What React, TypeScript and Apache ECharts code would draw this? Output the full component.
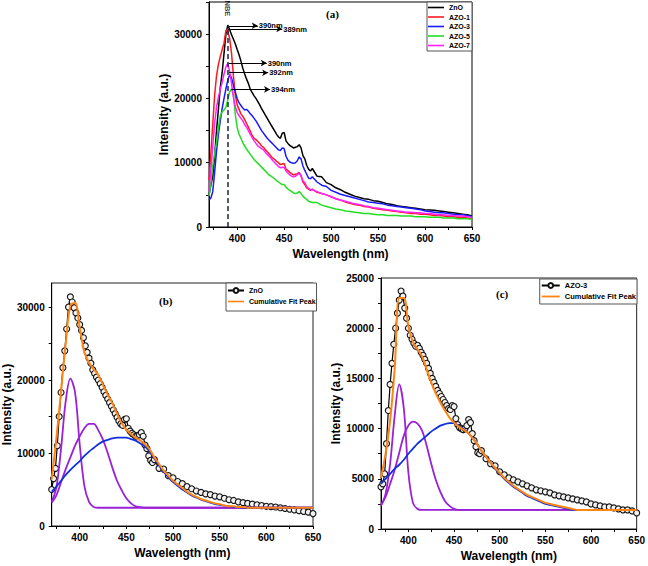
import { useEffect, useRef } from 'react';
import * as echarts from 'echarts';

// ---------- wavelength grids (nm) ----------
const wavelengths = [
  370, 372, 374, 376, 378, 380, 382, 384, 386, 388, 390, 392, 394, 396, 398, 400, 402, 404, 406, 408,
  410, 412, 414, 416, 418, 420, 422, 424, 426, 428, 430, 432, 434, 436, 438, 440, 442, 444, 446, 448,
  450, 452, 454, 456, 458, 460, 462, 464, 466, 468, 470, 472, 474, 476, 478, 480,
  485, 490, 495, 500, 505, 510, 515, 520, 525, 530, 535, 540, 545, 550, 555, 560, 565, 570, 575, 580,
  585, 590, 595, 600, 605, 610, 615, 620, 625, 630, 635, 640, 645, 650,
];

const fitWavelengths = [
  370, 375, 380, 385, 390, 395, 400, 405, 410, 415, 420, 425, 430, 435, 440, 445, 450, 455, 460, 465,
  470, 475, 480, 485, 490, 495, 500, 505, 510, 515, 520, 525, 530, 535, 540, 545, 550, 555, 560, 565,
  570, 575, 580, 585, 590, 595, 600, 605, 610, 615, 620, 625, 630, 635, 640, 645, 650,
];

// ---------- PL spectra (a.u.) ----------
const znoSpectrum = [
  5000, 6500, 7900, 11000, 15000, 18300, 21700, 24000, 27000, 30000, 31400, 30700, 29900, 29200, 28500, 27600, 26800, 25800, 24700, 23800,
  23000, 22300, 21400, 20900, 20400, 20000, 19500, 19000, 18400, 17900, 17400, 16900, 16400, 15900, 15400, 14900, 14400, 14000, 13800, 14600,
  14700, 13400, 13000, 12700, 12500, 12300, 12400, 12500, 12800, 12300, 11100, 10600, 9600, 9000, 8700, 9100,
  7900, 7800, 6900, 6600, 6100, 5800, 5400, 5100, 4800, 4600, 4400, 4300, 4100, 4000, 3800, 3600, 3500, 3300, 3200, 3100,
  3000, 2900, 2800, 2700, 2650, 2600, 2500, 2400, 2300, 2200, 2100, 2000, 1900, 1700,
];
const azo1Spectrum = [
  7300, 11500, 16000, 20500, 23500, 25300, 26500, 27600, 28600, 30600, 30500, 29300, 27000, 23500, 20500, 19000, 18300, 17600, 17200, 16700,
  16100, 15500, 14900, 14200, 13800, 13600, 13300, 13000, 12600, 12400, 12000, 11700, 11400, 11000, 10700, 10500, 10200, 10000, 9700, 9800,
  9900, 9000, 8800, 8500, 8300, 8100, 8200, 8300, 8500, 8000, 7000, 6600, 6100, 5900, 5700, 5900,
  5400, 5200, 5000, 4700, 4400, 4200, 3900, 3700, 3500, 3400, 3200, 3100, 2900, 2800, 2700, 2600, 2500, 2400, 2300, 2200,
  2100, 2100, 2000, 2000, 1900, 1800, 1800, 1700, 1600, 1600, 1500, 1500, 1400, 1300,
];
const azo3Spectrum = [
  4200, 4500, 5500, 8500, 11800, 14400, 16500, 18400, 20000, 21500, 22800, 23700, 23200, 22000, 21000, 20000, 19300, 18900, 18500, 18200,
  18300, 18000, 17600, 17300, 16900, 16500, 16000, 15500, 15000, 14600, 14200, 13800, 13500, 13200, 12900, 12600, 12300, 12000, 11900, 12300,
  12200, 11000, 10400, 10100, 10000, 9900, 10000, 10300, 10900, 10600, 9500, 8800, 8200, 7600, 7500, 7800,
  7000, 6500, 6300, 5700, 5400, 5100, 4900, 4700, 4500, 4300, 4100, 3900, 3800, 3700, 3600, 3400, 3300, 3200, 3100, 3000,
  2900, 2800, 2700, 2500, 2400, 2300, 2200, 2200, 2100, 2000, 1900, 1900, 1800, 1600,
];
const azo5Spectrum = [
  4800, 6800, 9500, 11500, 13200, 15500, 17300, 17900, 18200, 18600, 19800, 21000, 21500, 20500, 17500, 15500, 14400, 13800, 13100, 12600,
  12100, 11700, 11300, 10900, 10500, 10200, 9900, 9600, 9300, 9000, 8700, 8400, 8100, 7900, 7700, 7500, 7200, 7000, 6800, 6600,
  6600, 6200, 5900, 5700, 5500, 5300, 5200, 5300, 5500, 5200, 4800, 4500, 4300, 4000, 3900, 3800,
  3800, 3400, 3200, 3000, 2800, 2700, 2500, 2400, 2300, 2200, 2100, 2100, 2000, 1900, 1900, 1800, 1800, 1800, 1700, 1700,
  1700, 1600, 1600, 1600, 1500, 1500, 1500, 1400, 1400, 1400, 1300, 1300, 1300, 1200,
];
const azo7Spectrum = [
  5600, 9000, 12500, 16200, 18600, 20200, 21400, 22500, 23800, 24900, 25400, 24200, 22300, 20200, 18700, 17800, 17300, 16900, 16500, 15900,
  15500, 15000, 14400, 13900, 13400, 13000, 12600, 12400, 12200, 12000, 11600, 11300, 11000, 10700, 10300, 10000, 9700, 9400, 9200, 9300,
  9300, 8700, 8400, 8100, 7900, 7800, 7900, 8100, 8400, 7900, 7200, 6900, 6300, 6000, 5800, 5800,
  5500, 5200, 5000, 4700, 4400, 4200, 4000, 3800, 3600, 3500, 3300, 3200, 3000, 2900, 2800, 2700, 2600, 2500, 2400, 2300,
  2300, 2200, 2200, 2100, 2100, 2000, 1900, 1900, 1800, 1800, 1700, 1700, 1600, 1500,
];

// ---------- Gaussian fit curves, panel (b) ZnO ----------
const znoFitPeak1 = [
  3300, 5300, 10600, 17100, 20200, 18300, 11200, 5500, 3300, 2600, 2500, 2500, 2500, 2500, 2500, 2500, 2500, 2500, 2500, 2500,
  2500, 2500, 2500, 2500, 2500, 2500, 2500, 2500, 2500, 2500, 2500, 2500, 2500, 2500, 2500, 2500, 2500, 2500, 2500, 2500,
  2500, 2500, 2500, 2500, 2500, 2500, 2500, 2500, 2500, 2500, 2500, 2500, 2500, 2500, 2500, 2500, 2500,
];
const znoFitPeak2 = [
  3200, 4200, 6000, 7800, 9400, 11000, 12300, 13400, 14000, 14000, 13100, 11800, 10000, 8000, 6200, 4900, 3800, 3100, 2700, 2600,
  2500, 2500, 2500, 2500, 2500, 2500, 2500, 2500, 2500, 2500, 2500, 2500, 2500, 2500, 2500, 2500, 2500, 2500, 2500, 2500,
  2500, 2500, 2500, 2500, 2500, 2500, 2500, 2500, 2500, 2500, 2500, 2500, 2500, 2500, 2500, 2500, 2500,
];
const znoFitPeak3 = [
  4700, 5400, 6200, 7000, 7700, 8300, 8900, 9600, 10200, 10700, 11200, 11600, 11800, 12000, 12100, 12100, 12100, 11900, 11700, 11300,
  10900, 10200, 9200, 8300, 7400, 6700, 6000, 5500, 5000, 4600, 4200, 3900, 3600, 3400, 3200, 3000, 2900, 2800, 2700, 2600,
  2600, 2500, 2500, 2500, 2500, 2500, 2500, 2500, 2500, 2500, 2500, 2500, 2500, 2500, 2500, 2500, 2500,
];
const znoFitCumulative = [
  6400, 12000, 18500, 25000, 30200, 30600, 27200, 23800, 22400, 21500, 20700, 19300, 18000, 16800, 15400, 14100, 13200, 12600, 12100, 11700,
  11200, 10500, 9400, 8500, 7600, 6900, 6200, 5700, 5200, 4700, 4300, 4000, 3700, 3500, 3300, 3100, 3000, 2800, 2700, 2700,
  2600, 2600, 2500, 2500, 2500, 2500, 2500, 2500, 2500, 2500, 2500, 2500, 2500, 2500, 2500, 2500, 2500,
];

// ---------- Gaussian fit curves, panel (c) AZO-3 ----------
const azo3FitPeak1 = [
  2300, 3500, 6500, 11300, 14400, 12000, 5600, 2600, 2000, 1900, 1900, 1900, 1900, 1900, 1900, 1900, 1900, 1900, 1900, 1900,
  1900, 1900, 1900, 1900, 1900, 1900, 1900, 1900, 1900, 1900, 1900, 1900, 1900, 1900, 1900, 1900, 1900, 1900, 1900, 1900,
  1900, 1900, 1900, 1900, 1900, 1900, 1900, 1900, 1900, 1900, 1900, 1900, 1900, 1900, 1900, 1900, 1900,
];
const azo3FitPeak2 = [
  2400, 3200, 4500, 5900, 7600, 9300, 10300, 10700, 10500, 9800, 8300, 6500, 4900, 3700, 2800, 2300, 2000, 1900, 1900, 1900,
  1900, 1900, 1900, 1900, 1900, 1900, 1900, 1900, 1900, 1900, 1900, 1900, 1900, 1900, 1900, 1900, 1900, 1900, 1900, 1900,
  1900, 1900, 1900, 1900, 1900, 1900, 1900, 1900, 1900, 1900, 1900, 1900, 1900, 1900, 1900, 1900, 1900,
];
const azo3FitPeak3 = [
  4500, 5000, 5500, 6000, 6400, 6900, 7500, 8000, 8500, 8900, 9300, 9700, 10000, 10300, 10450, 10550, 10550, 10300, 10000, 9600,
  9100, 8500, 7800, 7200, 6600, 6000, 5500, 5000, 4600, 4200, 3900, 3600, 3300, 3100, 2900, 2700, 2500, 2400, 2300, 2200,
  2100, 2000, 1900, 1900, 1900, 1900, 1900, 1900, 1900, 1900, 1900, 1900, 1900, 1900, 1900, 1900, 1900,
];
const azo3FitCumulative = [
  5100, 7500, 10800, 16000, 23000, 23000, 20200, 18600, 17900, 17200, 15900, 14600, 13500, 12600, 11800, 11100, 10600, 10200, 9900, 9600,
  9100, 8500, 7800, 7200, 6600, 6100, 5600, 5100, 4700, 4300, 4000, 3700, 3400, 3200, 3000, 2800, 2600, 2500, 2400, 2300,
  2200, 2100, 2000, 1900, 1900, 1900, 1900, 1900, 1900, 1900, 1900, 1900, 1900, 1900, 1900, 1900, 1900,
];

// ---------- peak annotations in panel (a) ----------
const nbeWavelength = 390;
const nbeTop = 31400;
const nbeLabelLevel = 34000;
const peakNotes = ['390nm', '389nm', '390nm', '392nm', '394nm'];
const noteStarts = [[390.4, 31300], [390.4, 30800], [391, 25500], [391.5, 24000], [393.6, 21400]];
const noteEnds = [422, 448, 431.5, 433, 435];

// ---------- ticks ----------
const xLabelValues = [400, 450, 500, 550, 600, 650];
const xTickValues = [375, 400, 425, 450, 475, 500, 525, 550, 575, 600, 625, 650];
const yLabelsA = [0, 10000, 20000, 30000];
const yTicksA = [0, 5000, 10000, 15000, 20000, 25000, 30000, 35000];
const yLabelsB = [0, 10000, 20000, 30000];
const yTicksB = [0, 5000, 10000, 15000, 20000, 25000, 30000];
const yLabelsC = [0, 5000, 10000, 15000, 20000, 25000];
const yTicksC = [0, 2500, 5000, 7500, 10000, 12500, 15000, 17500, 20000, 22500, 25000];

const FONT = "'Liberation Sans', Arial, Helvetica, sans-serif";
const SERIF = "'Liberation Serif', 'Times New Roman', serif";
const LINE_ICON = 'path://M0,0H20V2H0Z';

const pairs = (xs: number[], ys: number[]) => xs.map((x, i) => [x, ys[i]]);

function xAxisFor(gridIndex: number) {
  return {
    type: 'value',
    gridIndex,
    min: 370,
    max: 650,
    name: 'Wavelength (nm)',
    nameLocation: 'middle',
    nameGap: 21,
    nameTextStyle: { fontFamily: FONT, fontSize: 12, fontWeight: 'bold', color: '#000' },
    axisLine: { show: true, onZero: false, lineStyle: { color: '#000', width: 1 } },
    axisTick: { show: true, length: 3, customValues: xTickValues, lineStyle: { color: '#000' } },
    axisLabel: {
      customValues: xLabelValues,
      formatter: (v: number) => String(v),
      fontFamily: FONT,
      fontSize: 10,
      fontWeight: 'bold',
      color: '#000',
      margin: 6,
    },
    splitLine: { show: false },
  };
}

function yAxisFor(gridIndex: number, max: number, labels: number[], ticks: number[]) {
  return {
    type: 'value',
    gridIndex,
    min: 0,
    max,
    name: 'Intensity (a.u.)',
    nameLocation: 'middle',
    nameGap: 35,
    nameTextStyle: { fontFamily: FONT, fontSize: 12, fontWeight: 'bold', color: '#000' },
    axisLine: { show: true, onZero: false, lineStyle: { color: '#000', width: 1 } },
    axisTick: { show: true, length: 3, customValues: ticks, lineStyle: { color: '#000' } },
    axisLabel: {
      customValues: labels,
      formatter: (v: number) => String(v),
      fontFamily: FONT,
      fontSize: 10,
      fontWeight: 'bold',
      color: '#000',
      margin: 7,
    },
    splitLine: { show: false },
  };
}

const spectraA = [
  { name: 'ZnO', data: znoSpectrum, color: '#000000' },
  { name: 'AZO-1', data: azo1Spectrum, color: '#ff1a1a' },
  { name: 'AZO-3', data: azo3Spectrum, color: '#1a1aff' },
  { name: 'AZO-5', data: azo5Spectrum, color: '#22dd22' },
  { name: 'AZO-7', data: azo7Spectrum, color: '#ff22ff' },
];

function fitLine(name: string, grid: number, data: number[], color: string, width = 1.8) {
  return {
    type: 'line',
    name,
    xAxisIndex: grid,
    yAxisIndex: grid,
    data: pairs(fitWavelengths, data),
    symbol: 'none',
    showSymbol: false,
    smooth: 0.35,
    lineStyle: { color, width },
    itemStyle: { color },
    silent: true,
    z: 3,
  };
}

function dataWithMarkers(name: string, grid: number, data: number[]) {
  return {
    type: 'line',
    name,
    xAxisIndex: grid,
    yAxisIndex: grid,
    data: pairs(wavelengths, data),
    symbol: 'circle',
    symbolSize: 6,
    showSymbol: true,
    lineStyle: { color: '#000', width: 1.2 },
    itemStyle: { color: '#f2f2f2', borderColor: '#111', borderWidth: 1.1 },
    silent: true,
    z: 2,
  };
}

function buildOption() {
  const seriesA = spectraA.map((s, idx) => {
    const base: any = {
      type: 'line',
      name: s.name,
      xAxisIndex: 0,
      yAxisIndex: 0,
      data: pairs(wavelengths, s.data),
      symbol: 'none',
      showSymbol: false,
      lineStyle: { color: s.color, width: 1.5 },
      itemStyle: { color: s.color },
      silent: true,
      z: 2 + idx * 0.01,
    };
    if (idx === 0) {
      base.markLine = {
        silent: true,
        symbol: ['none', 'arrow'],
        symbolSize: [5, 6],
        animation: false,
        lineStyle: { color: '#000', width: 1, type: 'solid' },
        label: {
          show: true,
          position: 'end',
          distance: 1,
          formatter: (p: any) => p.name,
          fontFamily: FONT,
          fontSize: 7.5,
          fontWeight: 'bold',
          color: '#000',
        },
        data: peakNotes.map((n, i) => [
          { name: n, coord: noteStarts[i] },
          { coord: [noteEnds[i], noteStarts[i][1]] },
        ]),
      };
    }
    return base;
  });

  const nbeSeries = {
    type: 'scatter',
    name: 'NBE',
    xAxisIndex: 0,
    yAxisIndex: 0,
    data: [[nbeWavelength, nbeLabelLevel]],
    symbolSize: 0.1,
    itemStyle: { color: 'rgba(0,0,0,0)' },
    silent: true,
    z: 5,
    label: {
      show: true,
      formatter: 'NBE',
      position: 'inside',
      rotate: -90,
      fontFamily: FONT,
      fontSize: 7.5,
      fontWeight: 'bold',
      color: '#000',
    },
    markLine: {
      silent: true,
      symbol: ['none', 'none'],
      animation: false,
      label: { show: false },
      lineStyle: { type: [5, 3], color: '#1c2350', width: 1.5 },
      data: [[{ coord: [nbeWavelength, 0] }, { coord: [nbeWavelength, nbeTop] }]],
    },
  };

  const purple = '#9a22d6';
  const blueFit = '#1030dc';
  const orange = '#ff8411';

  const seriesB = [
    dataWithMarkers('ZnO (b)', 1, znoSpectrum),
    fitLine('peak1 (b)', 1, znoFitPeak1, purple),
    fitLine('peak2 (b)', 1, znoFitPeak2, purple),
    fitLine('peak3 (b)', 1, znoFitPeak3, blueFit),
    fitLine('Cumulative Fit Peak (b)', 1, znoFitCumulative, orange, 2),
  ];
  const seriesC = [
    dataWithMarkers('AZO-3 (c)', 2, azo3Spectrum),
    fitLine('peak1 (c)', 2, azo3FitPeak1, purple),
    fitLine('peak2 (c)', 2, azo3FitPeak2, purple),
    fitLine('peak3 (c)', 2, azo3FitPeak3, blueFit),
    fitLine('Cumulative Fit Peak (c)', 2, azo3FitCumulative, orange, 2),
  ];

  const legendText = { fontFamily: FONT, fontSize: 7, fontWeight: 'bold', color: '#000', lineHeight: 9 };
  const stripSuffix = (n: string) => n.replace(/ \([bc]\)$/, '');

  return {
    animation: false,
    backgroundColor: '#ffffff',
    textStyle: { fontFamily: FONT },
    title: [
      { text: '(a)', left: 326, top: 8, padding: 0, textStyle: { fontFamily: SERIF, fontSize: 11, fontWeight: 'bold', color: '#000' } },
      { text: '(b)', left: 159, top: 295, padding: 0, textStyle: { fontFamily: SERIF, fontSize: 11, fontWeight: 'bold', color: '#000' } },
      { text: '(c)', left: 496, top: 288, padding: 0, textStyle: { fontFamily: SERIF, fontSize: 11, fontWeight: 'bold', color: '#000' } },
    ],
    legend: [
      {
        data: spectraA.map((s) => ({ name: s.name, icon: LINE_ICON })),
        orient: 'vertical',
        right: 176,
        top: 2,
        itemWidth: 16,
        itemHeight: 8,
        itemGap: 0.5,
        padding: [1, 2, 1, 1],
        borderColor: '#555',
        borderWidth: 1,
        backgroundColor: '#fff',
        selectedMode: false,
        textStyle: legendText,
      },
      {
        data: ['ZnO (b)', { name: 'Cumulative Fit Peak (b)', icon: LINE_ICON }],
        formatter: stripSuffix,
        orient: 'vertical',
        left: 226,
        top: 283,
        itemWidth: 16,
        itemHeight: 6,
        itemGap: 2,
        padding: [3, 1, 5, 1],
        borderColor: '#555',
        borderWidth: 1,
        backgroundColor: '#fff',
        selectedMode: false,
        textStyle: legendText,
      },
      {
        data: ['AZO-3 (c)', { name: 'Cumulative Fit Peak (c)', icon: LINE_ICON }],
        formatter: stripSuffix,
        orient: 'vertical',
        right: 11,
        top: 279,
        itemWidth: 18,
        itemHeight: 6,
        itemGap: 2,
        padding: [2, 1, 3, 1],
        borderColor: '#555',
        borderWidth: 1,
        backgroundColor: '#fff',
        selectedMode: false,
        textStyle: { ...legendText, fontSize: 7.5 },
      },
    ],
    grid: [
      { left: 209, top: 2, width: 263, height: 225, show: true, borderColor: '#000', borderWidth: 1, backgroundColor: 'transparent' },
      { left: 50, top: 283, width: 263, height: 243, show: true, borderColor: '#222', borderWidth: 1, backgroundColor: 'transparent' },
      { left: 381, top: 278, width: 257, height: 251, show: true, borderColor: '#222', borderWidth: 1, backgroundColor: 'transparent' },
    ],
    xAxis: [xAxisFor(0), xAxisFor(1), xAxisFor(2)],
    yAxis: [
      yAxisFor(0, 35000, yLabelsA, yTicksA),
      yAxisFor(1, 33300, yLabelsB, yTicksB),
      yAxisFor(2, 25000, yLabelsC, yTicksC),
    ],
    series: [...seriesA, nbeSeries, ...seriesB, ...seriesC],
  };
}

export default function App() {
  const ref = useRef<HTMLDivElement | null>(null);
  useEffect(() => {
    if (!ref.current) return;
    const chart = echarts.init(ref.current, undefined, { renderer: 'svg' });
    chart.setOption(buildOption() as any);
    return () => chart.dispose();
  }, []);
  return (
    <div
      ref={ref}
      style={{ position: 'fixed', left: 0, top: 0, width: 648, height: 566, background: '#fff' }}
    />
  );
}
